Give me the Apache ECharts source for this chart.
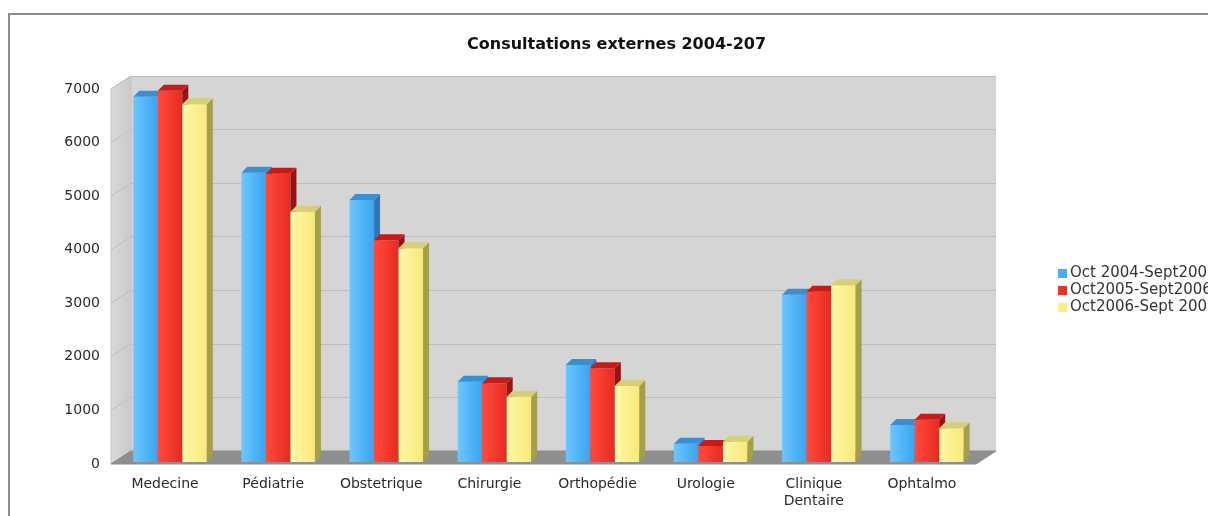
<!DOCTYPE html>
<html>
<head>
<meta charset="utf-8">
<script src="https://cdn.jsdelivr.net/npm/echarts@6/dist/echarts.min.js"></script>
<style>
  html, body { margin: 0; padding: 0; background: #fff; }
  #main { width: 1208px; height: 516px; }
</style>
</head>
<body>
<div id="main"></div>
<script>
// data
var categories = ['Medecine', 'Pédiatrie', 'Obstetrique', 'Chirurgie', 'Orthopédie', 'Urologie', 'Clinique\nDentaire', 'Ophtalmo'];
var seriesNames = ['Oct 2004-Sept2005', 'Oct2005-Sept2006', 'Oct2006-Sept 2007'];
var oct2004 = [6820, 5400, 4890, 1500, 1810, 340, 3120, 690];
var oct2005 = [6930, 5380, 4140, 1470, 1750, 300, 3180, 790];
var oct2006 = [6680, 4670, 3990, 1220, 1420, 380, 3300, 630];
var yTicks = [0, 1000, 2000, 3000, 4000, 5000, 6000, 7000];

var FONT = 'DejaVu Sans';
var DX = 20, DY = 13;   // depth of the box (back wall offset)

// colours of the three faces for each series
var faces = [
  { base: '#45aef5', front: ['#6cc6ff', '#3aa4f0'], side: '#2c76b6', top: '#3a8ed2' },
  { base: '#f2302a', front: ['#ff4a3c', '#e82a20'], side: '#981210', top: '#c41c18' },
  { base: '#fbee88', front: ['#fff7a6', '#f8e97a'], side: '#a59e4a', top: '#d6cf78' }
];

function grad(c) {
  return new echarts.graphic.LinearGradient(0, 0, 1, 0, [
    { offset: 0, color: c[0] }, { offset: 1, color: c[1] }
  ]);
}

function barRenderer(k) {
  var f = faces[k];
  return function (params, api) {
    var i = api.value(0), v = api.value(1);
    var base = api.coord([i, 0]);
    var top = api.coord([i, v]);
    var bw = 24.5, d = 6;
    var x0 = base[0] + 5 - 1.5 * bw + k * bw;
    var x1 = x0 + bw;
    var yb = base[1] - 2, yt = top[1] - 2;
    return {
      type: 'group',
      children: [
        { type: 'rect', shape: { x: x0, y: yt, width: bw, height: yb - yt }, style: { fill: grad(f.front) } },
        { type: 'polygon', shape: { points: [[x1, yt], [x1 + d, yt - d], [x1 + d, yb - d], [x1, yb]] }, style: { fill: f.side } },
        { type: 'polygon', shape: { points: [[x0, yt], [x0 + d, yt - d], [x1 + d, yt - d], [x1, yt]] }, style: { fill: f.top } }
      ]
    };
  };
}

function wallRenderer(params, api) {
  var cs = params.coordSys;
  var x = cs.x, y = cs.y, w = cs.width, h = cs.height;
  var kids = [];
  kids.push({
    type: 'polygon',
    shape: { points: [[x, y + h], [x, y], [x + DX, y - DY], [x + DX, y + h - DY]] },
    style: {
      fill: new echarts.graphic.LinearGradient(0, 0, 1, 0, [
        { offset: 0, color: '#dadada' }, { offset: 1, color: '#c9c9c9' }
      ]),
      stroke: '#c4c4c4', lineWidth: 1
    }
  });
  yTicks.forEach(function (t) {
    var py = api.coord([0, t])[1];
    kids.push({
      type: 'line',
      shape: { x1: x, y1: py, x2: x + DX, y2: py - DY },
      style: { stroke: '#bdbdbd', lineWidth: 1 }
    });
  });
  kids.push({
    type: 'polygon',
    shape: { points: [[x, y + h], [x + DX, y + h - DY], [x + w + DX, y + h - DY], [x + w, y + h]] },
    style: { fill: '#8f8f8f', stroke: '#8a8a8a', lineWidth: 1 }
  });
  return { type: 'group', children: kids };
}

var myChart = echarts.init(document.getElementById('main'));

var barSeries = [oct2004, oct2005, oct2006].map(function (vals, k) {
  return {
    name: seriesNames[k],
    type: 'custom',
    xAxisIndex: 0,
    yAxisIndex: 0,
    itemStyle: { color: faces[k].base },
    renderItem: barRenderer(k),
    data: vals.map(function (v, i) { return [i, v]; })
  };
});

var option = {
  backgroundColor: '#fff',
  animation: false,
  color: faces.map(function (f) { return f.base; }),
  title: {
    text: 'Consultations externes 2004-207',
    left: 462,
    top: 32,
    textStyle: { fontFamily: FONT, fontSize: 16, fontWeight: 'bold', color: '#111' }
  },
  legend: {
    data: seriesNames,
    orient: 'vertical',
    left: 1053,
    top: 261,
    itemWidth: 9,
    itemHeight: 9,
    itemGap: 2,
    itemStyle: { borderWidth: 0 },
    icon: 'rect',
    textStyle: { fontFamily: FONT, fontSize: 15, color: '#333', padding: [0, 0, 0, -2] }
  },
  graphic: [{
    type: 'rect',
    shape: { x: 9, y: 14, width: 1300, height: 600 },
    style: { fill: null, stroke: '#8c8c8c', lineWidth: 2 },
    z: -10
  }],
  grid: [
    { left: 111, top: 89, width: 865, height: 375 },
    { left: 131, top: 76, width: 865, height: 375, show: true, backgroundColor: '#d5d5d5', borderWidth: 0 }
  ],
  xAxis: [
    {
      type: 'category', gridIndex: 0, data: categories,
      axisLine: { show: false }, axisTick: { show: false },
      axisLabel: { margin: 12, fontFamily: FONT, fontSize: 14, color: '#2a2a2a', lineHeight: 17, interval: 0 }
    },
    { type: 'category', gridIndex: 1, data: categories, show: false }
  ],
  yAxis: [
    {
      type: 'value', gridIndex: 0, min: 0, max: 7000, interval: 1000,
      axisLine: { show: false }, axisTick: { show: false }, splitLine: { show: false },
      axisLabel: {
        margin: 11, fontFamily: FONT, fontSize: 14, color: '#2a2a2a',
        formatter: function (v) { return String(v); }
      }
    },
    {
      type: 'value', gridIndex: 1, min: 0, max: 7000, interval: 1000,
      axisLine: { show: false }, axisTick: { show: false }, axisLabel: { show: false },
      splitLine: { lineStyle: { color: '#bcbcbc', width: 1 } }
    }
  ],
  series: [{
    type: 'custom',
    name: 'walls',
    xAxisIndex: 0,
    yAxisIndex: 0,
    silent: true,
    renderItem: wallRenderer,
    data: [[0, 0]]
  }].concat(barSeries)
};

myChart.setOption(option);
</script>
</body>
</html>
